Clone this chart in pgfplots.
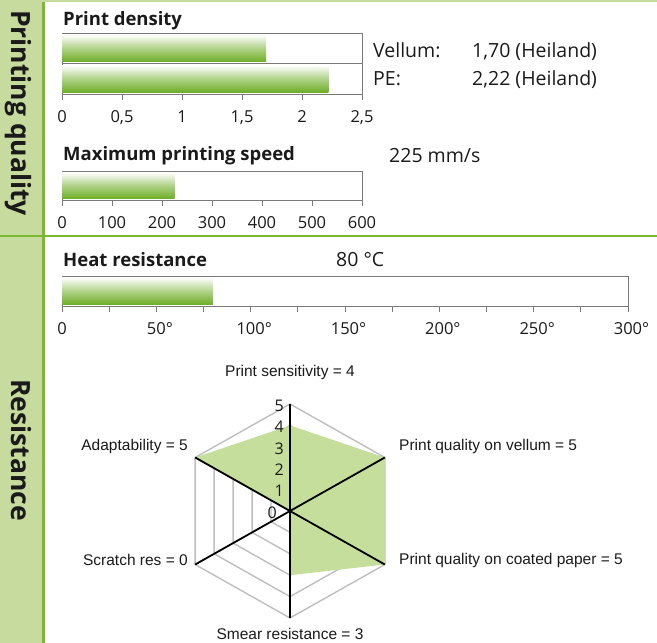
\documentclass[border=0pt]{standalone}
\usepackage{pgfplots}
\pgfplotsset{compat=1.18}
\usepackage{pgfplotstable}
\usepackage{fontspec}
\setmainfont{Open Sans}
\newfontfamily\arialf{Liberation Sans}

\definecolor{bandgreen}{HTML}{C6DB9D}
\definecolor{linegreen}{HTML}{7DB92E}
\definecolor{bargreen}{HTML}{6FAE27}
\definecolor{radarfill}{HTML}{C5DE9C}
\definecolor{ringgray}{HTML}{BEBEBE}
\definecolor{boxgray}{HTML}{7A7A7A}
\definecolor{txt}{HTML}{1A1A1A}

\newcommand{\fs}[1]{\fontsize{#1}{#1}\selectfont}

% radar: angle (deg) and score
\pgfplotstableread{
a r
90 4
30 5
-30 5
270 3
210 0
150 5
}\radar

% unit hexagon for the grid rings
\pgfplotstableread{
a r
90 1
30 1
-30 1
270 1
210 1
150 1
90 1
}\hexring

\pgfplotsset{
  hbar/.style={
    scale only axis, xbar, bar shift=0pt, clip=false,
    axis line style={boxgray, line width=0.9pt},
    xtick pos=left, xtick align=outside, ytick=\empty,
    major tick length=6pt, minor tick length=6pt,
    tick style={boxgray, line width=0.9pt},
    tick label style={font=\fs{16.5}, text=txt},
    xticklabel style={yshift=-7pt},
    /pgf/number format/assume math mode=true,
    enlargelimits=false,
  },
  barfill/.style={draw=none, top color=white, bottom color=bargreen, middle color=bargreen!55!white},
  /pgfplots/table/polar/.style={x expr={\thisrow{r}*cos(\thisrow{a})}, y expr={\thisrow{r}*sin(\thisrow{a})}},
}

\begin{document}
\begin{tikzpicture}[x=1pt, y=1pt, font=\fs{19.5}, text=txt]
\useasboundingbox (0,0) rectangle (657,-643);
\fill[bandgreen] (0,0) rectangle (42,-643);
\draw[bandgreen, line width=2.5pt] (42,-1) -- (657,-1);
\draw[linegreen, line width=3pt] (43.5,-2) -- (43.5,-643);
\draw[linegreen, line width=2.5pt] (0,-236) -- (657,-236);
\node[rotate=-90, anchor=base, font=\bfseries\fs{26.5}] at (11,-113) {Printing quality};
\node[rotate=-90, anchor=base, font=\bfseries\fs{26.5}] at (11,-450) {Resistance};

\begin{scope}[every node/.style={inner sep=0pt}]
\node[anchor=base west, font=\bfseries\fs{18.5}] at (63,-25) {Print density};
\node[anchor=base west] at (373,-57) {Vellum:};
\node[anchor=base west] at (472,-57) {1,70 (Heiland)};
\node[anchor=base west] at (373,-85) {PE:};
\node[anchor=base west] at (472,-85) {2,22 (Heiland)};
\node[anchor=base west, font=\bfseries\fs{18.5}] at (63,-160) {Maximum printing speed};
\node[anchor=base west] at (389,-162) {225 mm/s};
\node[anchor=base west, font=\bfseries\fs{18.5}] at (63,-266) {Heat resistance};
\node[anchor=base west] at (336,-266) {80 °C};
\end{scope}

\begin{axis}[hbar, at={(62pt,-33pt)}, anchor=north west, width=300pt, height=61pt,
  xmin=0, xmax=2.5, ymin=-0.5, ymax=1.5, bar width=27pt,
  xtick={0,0.5,1,1.5,2,2.5}, xticklabels={0,{0,5},1,{1,5},2,{2,5}},
  extra y ticks={0.5}, extra y tick labels={},
  extra y tick style={grid=major, major grid style={boxgray, line width=0.9pt}, tick style={draw=none}}]
\addplot[barfill] coordinates {(1.70,1)};
\addplot[barfill] coordinates {(2.22,0)};
\end{axis}

\begin{axis}[hbar, at={(62pt,-171pt)}, anchor=north west, width=300pt, height=29pt,
  xmin=0, xmax=600, ymin=-0.5, ymax=0.5, bar width=26pt, xtick={0,100,...,600}]
\addplot[barfill] coordinates {(225,0)};
\end{axis}

\begin{axis}[hbar, at={(62pt,-276pt)}, anchor=north west, width=566pt, height=30pt,
  xmin=0, xmax=300, ymin=-0.5, ymax=0.5, bar width=27pt, xtick={0,50,...,300},
  xticklabels={0,50\rlap{°},100\rlap{°},150\rlap{°},200\rlap{°},250\rlap{°},300\rlap{°}},
  minor x tick num=1]
\addplot[barfill] coordinates {(80,0)};
\end{axis}

\begin{axis}[at={(290pt,-511pt)}, anchor=origin, hide axis, clip=false,
  x=21.9pt, y=21.4pt, xmin=-5, xmax=5, ymin=-5, ymax=5]
\pgfplotsinvokeforeach{1,...,5}{
  \addplot[ringgray, line width=1.4pt, mark=none]
    table[x expr={#1*\thisrow{r}*cos(\thisrow{a})}, y expr={#1*\thisrow{r}*sin(\thisrow{a})}] {\hexring};
}
\addplot[fill=radarfill, draw=none, mark=none] table[polar] {\radar} -- cycle;
\addplot[black, line width=1.8pt, mark=none] table[polar, row sep=\\] {a r\\ 90 5\\ 270 5\\};
\addplot[black, line width=1.8pt, mark=none] table[polar, row sep=\\] {a r\\ 30 5\\ 210 5\\};
\addplot[black, line width=1.8pt, mark=none] table[polar, row sep=\\] {a r\\ 150 5\\ 330 5\\};
\end{axis}

\begin{scope}[every node/.style={inner sep=0pt, font=\fs{16}}]
\node[anchor=east] at (284,-405.5) {5};
\node[anchor=east] at (284,-427) {4};
\node[anchor=east] at (284,-448.5) {3};
\node[anchor=east] at (284,-470) {2};
\node[anchor=east] at (284,-491) {1};
\node[anchor=east] at (277,-512.5) {0};
\end{scope}

\begin{scope}[every node/.style={inner sep=0pt, font=\arialf\fs{15.5}}]
\node at (290,-372) {Print sensitivity = 4};
\node[anchor=west] at (399,-446) {Print quality on vellum = 5};
\node[anchor=west] at (399,-560) {Print quality on coated paper = 5};
\node at (290,-634) {Smear resistance = 3};
\node[anchor=east] at (188,-560) {Scratch res = 0};
\node[anchor=east] at (188,-446) {Adaptability = 5};
\end{scope}
\end{tikzpicture}
\end{document}
